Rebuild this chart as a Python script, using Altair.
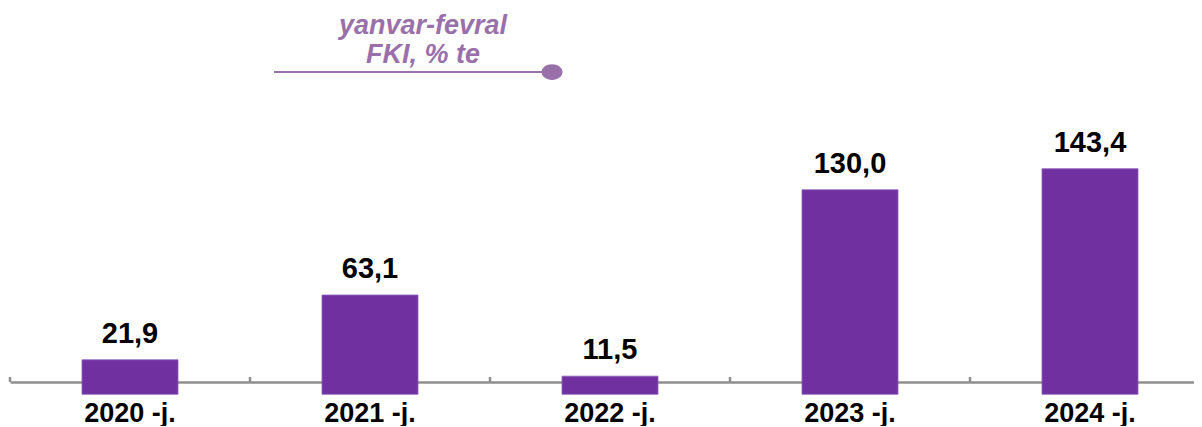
import altair as alt
import pandas as pd

years = ["2020 -j.", "2021 -j.", "2022 -j.", "2023 -j.", "2024 -j."]
values = [21.9, 63.1, 11.5, 130.0, 143.4]
labels = [f"{v:.1f}".replace(".", ",") for v in values]
title_lines = ["yanvar-fevral", "FKI, % te"]

df = pd.DataFrame({"year": years, "value": values, "label": labels})

W, H = 1184, 374
PURPLE = "#7030A0"
TITLE_C = "#9a70aa"
FONT = "Liberation Sans"
AXIS_C = "#8f8f8f"

xscale = alt.Scale(range=[0, 1200], paddingInner=0.6, paddingOuter=0.3)
xenc = alt.X("year:N", sort=years, scale=xscale,
             axis=alt.Axis(title=None, ticks=False, tickSize=0, labelAngle=0,
                           labelFont=FONT, labelFontSize=27, labelFontWeight="bold",
                           labelColor="#000000", labelPadding=18,
                           domainColor=AXIS_C, domainWidth=2.5, grid=False))
yscale = alt.Scale(domain=[7.8, 245.6], zero=False, nice=False)
yenc = alt.Y("value:Q", scale=yscale, axis=None)

base = alt.Chart(df)

bars = base.mark_bar(color=PURPLE, stroke="#8d5cbc", strokeWidth=0.8).encode(x=xenc, y=yenc)

text = base.mark_text(font=FONT, fontSize=29, fontWeight="bold", color="#000000",
                      baseline="alphabetic", dy=-17).encode(
    x=alt.X("year:N", sort=years, scale=xscale, axis=None),
    y=alt.Y("value:Q", scale=yscale), text="label:N")

# small upward ticks at the category boundaries
ticks = base.mark_rule(color=AXIS_C, strokeWidth=2.5).encode(
    x=alt.X("year:N", sort=years, bandPosition=0, axis=None,
            scale=alt.Scale(range=[0, 1200], paddingInner=0, paddingOuter=0)),
    y=alt.value(H - 5), y2=alt.value(H))

one = alt.Data(values=[{"a": 1}])
tstyle = dict(font=FONT, fontSize=27, fontWeight="bold", fontStyle="italic",
              color=TITLE_C, baseline="alphabetic", align="center")
t1 = alt.Chart(one).mark_text(**tstyle).encode(
    x=alt.value(413), y=alt.value(26), text=alt.value(title_lines[0]))
t2 = alt.Chart(one).mark_text(**tstyle).encode(
    x=alt.value(413), y=alt.value(55), text=alt.value(title_lines[1]))
line = alt.Chart(one).mark_rule(color=TITLE_C, strokeWidth=2.2).encode(
    x=alt.value(264), x2=alt.value(536), y=alt.value(64))
dot = alt.Chart(one).mark_point(
    shape="M -1 0 A 1 0.75 0 1 0 1 0 A 1 0.75 0 1 0 -1 0 Z",
    size=441, filled=True, color=TITLE_C, opacity=1).encode(
    x=alt.value(542), y=alt.value(64))

chart = alt.layer(bars, ticks, text, t1, t2, line, dot).resolve_scale(
    x="independent"
).properties(
    width=W, height=H,
    autosize=alt.AutoSizeParams(type="none"),
    padding={"left": 2, "top": 0, "right": 0, "bottom": 44},
).configure_view(stroke=None)

chart.save("out.html", embed_options={"renderer": "svg", "actions": False})
